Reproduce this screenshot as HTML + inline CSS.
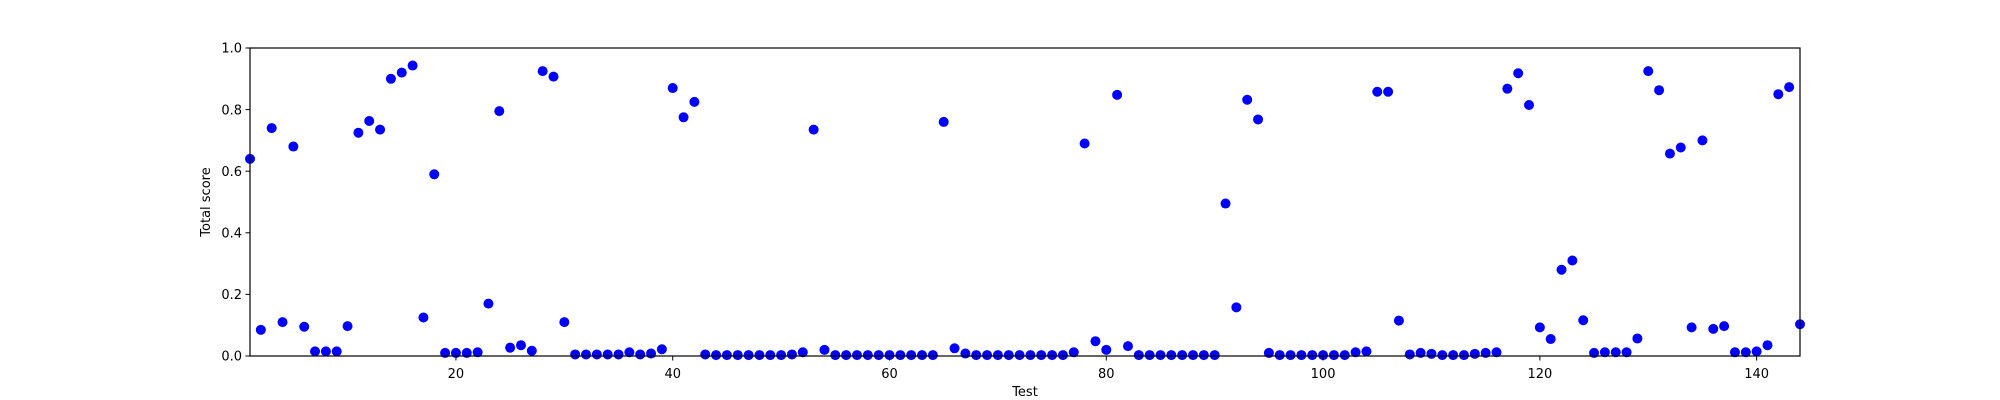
<!DOCTYPE html>
<html><head><meta charset="utf-8"><style>
html,body{margin:0;padding:0;background:#fff;}
svg{display:block;font-family:"DejaVu Sans","Liberation Sans",sans-serif;}
</style></head><body>
<svg id="chart" width="2000" height="400" viewBox="0 0 2000 400" xmlns="http://www.w3.org/2000/svg">
<rect x="0" y="0" width="2000" height="400" fill="#fff"/>
<g id="marks"></g>
<rect x="250" y="48" width="1550" height="308" fill="none" stroke="#000" stroke-width="1.2"/>
<g id="xticks"></g>
<g id="yticks"></g>
<text x="1025" y="396" font-size="13" text-anchor="middle">Test</text>
<text transform="translate(210,202) rotate(-90)" font-size="13" text-anchor="middle">Total score</text>
</svg>
<script>
const testIds = Array.from({length:144},(_,i)=>i+1);
const scores = [0.64,0.085,0.74,0.11,0.68,0.095,0.015,0.015,0.015,0.097,
0.725,0.763,0.735,0.90,0.92,0.943,0.125,0.59,0.01,0.01,
0.01,0.012,0.17,0.795,0.027,0.035,0.017,0.925,0.907,0.11,
0.005,0.005,0.005,0.005,0.005,0.012,0.005,0.008,0.022,0.87,
0.775,0.825,0.005,0.003,0.003,0.003,0.003,0.003,0.003,0.003,
0.005,0.012,0.735,0.02,0.003,0.003,0.003,0.003,0.003,0.003,
0.003,0.003,0.003,0.003,0.76,0.025,0.008,0.003,0.003,0.003,
0.003,0.003,0.003,0.003,0.003,0.003,0.012,0.69,0.048,0.02,
0.848,0.032,0.003,0.003,0.003,0.003,0.003,0.003,0.003,0.003,
0.495,0.158,0.832,0.768,0.01,0.003,0.003,0.003,0.003,0.003,
0.003,0.003,0.012,0.015,0.858,0.858,0.115,0.005,0.01,0.007,
0.003,0.003,0.003,0.007,0.01,0.012,0.868,0.918,0.815,0.093,
0.055,0.28,0.31,0.116,0.01,0.012,0.012,0.012,0.057,0.925,
0.863,0.657,0.677,0.093,0.7,0.088,0.097,0.012,0.012,0.015,
0.035,0.85,0.873,0.103];
const xTickVals = [20,40,60,80,100,120,140];
const yTickVals = [0.0,0.2,0.4,0.6,0.8,1.0];
const yTickLabels = ["0.0","0.2","0.4","0.6","0.8","1.0"];

const X0=250,X1=1800,Y0=356,Y1=48;
const xMin=1,xMax=144;
function sx(v){return X0+(v-xMin)/(xMax-xMin)*(X1-X0);}
function sy(v){return Y0+(v-0)/(1-0)*(Y1-Y0);}
const NS="http://www.w3.org/2000/svg";
const marks=document.getElementById('marks');
testIds.forEach((t,i)=>{
  const c=document.createElementNS(NS,'circle');
  c.setAttribute('cx',sx(t));c.setAttribute('cy',sy(scores[i]));
  c.setAttribute('r',5);c.setAttribute('fill','#0000ff');
  
  
  marks.appendChild(c);
});
const xg=document.getElementById('xticks');
xTickVals.forEach(v=>{
  const l=document.createElementNS(NS,'line');
  l.setAttribute('x1',sx(v));l.setAttribute('x2',sx(v));
  l.setAttribute('y1',Y0);l.setAttribute('y2',Y0+4.5);l.setAttribute('stroke','#000');
  
  
  xg.appendChild(l);
  const t=document.createElementNS(NS,'text');
  t.setAttribute('x',sx(v));t.setAttribute('y',Y0+22);
  t.setAttribute('font-size','13');t.setAttribute('text-anchor','middle');
  t.textContent=v;
  
  
  xg.appendChild(t);
});
const yg=document.getElementById('yticks');
yTickVals.forEach((v,i)=>{
  const l=document.createElementNS(NS,'line');
  l.setAttribute('x1',X0-4.5);l.setAttribute('x2',X0);
  l.setAttribute('y1',sy(v));l.setAttribute('y2',sy(v));l.setAttribute('stroke','#000');
  
  
  yg.appendChild(l);
  const t=document.createElementNS(NS,'text');
  t.setAttribute('x',X0-8);t.setAttribute('y',sy(v)+4.7);
  t.setAttribute('font-size','13');t.setAttribute('text-anchor','end');
  t.textContent=yTickLabels[i];
  
  
  yg.appendChild(t);
});
</script>
</body></html>
